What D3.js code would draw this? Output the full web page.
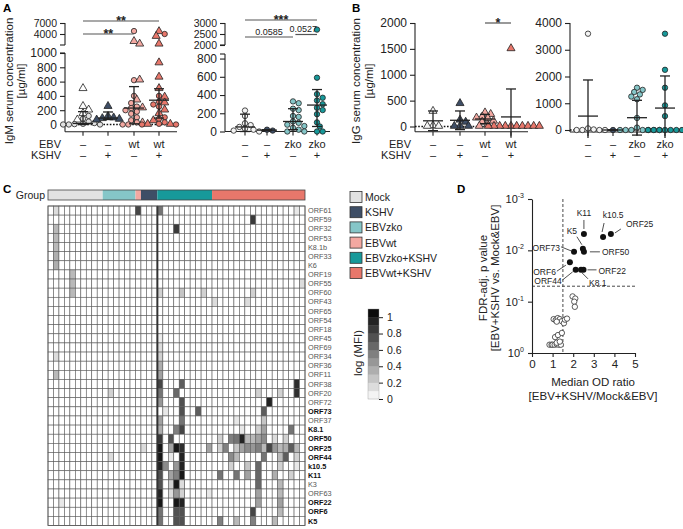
<!DOCTYPE html>
<html>
<head>
<meta charset="utf-8">
<script src="https://cdn.jsdelivr.net/npm/d3@7"></script>
<style>
body{margin:0;background:#fff;}
svg{font-family:"Liberation Sans",Arial,sans-serif;}
</style>
</head>
<body>
<script>
//wrap everything in a self-executing anonymous function
(function(){

    //group names and colours
    var groupNames = ["Mock", "KSHV", "EBVzko", "EBVwt", "EBVzko+KSHV", "EBVwt+KSHV"];
    var groupColors = ["#e2e2e2", "#3e4e66", "#85c6c8", "#f3a8a1", "#17999a", "#e8776b"];

    //panel A left: IgM [µg/ml], EBVwt experiment (triangles / circles = two cohorts)
    var igmWtMockTri = [500, 250, 200, 150, 60];
    var igmWtMockCirc = [120, 80, 40, 20, 10, 5, 0, 0, 0];
    var igmWtKshvTri = [250, 110, 90, 80, 70, 60];
    var igmWtEbvCirc = [4800, 620, 400, 300, 250, 230, 200, 180, 150, 100, 60, 30, 0, 0];
    var igmWtEbvTri = [1900, 1200, 620, 340, 230, 20];
    var igmWtBothTri = [4600, 3300, 1200, 860, 660, 500, 380, 300, 200, 150, 50, 0, 0];
    var igmWtBothCirc = [4000, 400, 320, 280, 250, 100, 80, 30, 10, 0, 0];
    var igmWtMedian = [15, 90, 230, 340];
    var igmWtQ1 = [0, 70, 10, 90];
    var igmWtQ3 = [180, 175, 530, 500];

    //panel A right: IgM [µg/ml], EBVzko experiment
    var igmZkoMock = [230, 170, 90, 70, 50, 30, 20, 10, 0];
    var igmZkoKshv = [20, 10];
    var igmZkoEbv = [330, 310, 250, 235, 170, 160, 110, 95, 75, 60, 40, 20, 0, 0];
    var igmZkoBoth = [2700, 590, 410, 370, 340, 300, 260, 235, 190, 100, 55, 0, 0];
    var igmZkoMedian = [50, 15, 110, 290];
    var igmZkoQ1 = [0, 10, 20, 55];
    var igmZkoQ3 = [190, 20, 250, 460];

    //panel B left: IgG [µg/ml], EBVwt experiment (mean ± SD)
    var iggWtMock = [290, 10, 0, 0];
    var iggWtKshv = [440, 120, 80, 0, 0, 0];
    var iggWtEbv = [260, 230, 180, 160, 150, 100, 80, 30, 0];
    var iggWtBoth = [1500, 0, 0, 0, 0, 0, 0, 0, 0, 0, 0];
    var iggWtMean = [110, 120, 145, 185];
    var iggWtSd = [190, 180, 90, 540];

    //panel B right: IgG [µg/ml], EBVzko experiment (mean ± SD)
    var iggZkoMock = [3600, 60, 20, 0, 0, 0, 0];
    var iggZkoKshv = [0];
    var iggZkoEbv = [1580, 1500, 1420, 1330, 1250, 1150, 450, 90, 0, 0, 0, 0, 0, 0, 0];
    var iggZkoBoth = [3600, 2250, 1580, 920, 520, 0, 0, 0, 0, 0, 0, 0];
    var iggZkoMean = [520, 0, 460, 820];
    var iggZkoSd = [1350, 0, 650, 1200];

    //panel C: heatmap of log(MFI)
    var heatRows = ["ORF61", "ORF59", "ORF32", "ORF53", "K8.1b", "ORF33", "K6", "ORF19", "ORF55", "ORF60",
        "ORF43", "ORF65", "ORF54", "ORF18", "ORF45", "ORF69", "ORF34", "ORF36", "ORF11", "ORF38",
        "ORF20", "ORF72", "ORF73", "ORF37", "K8.1", "ORF50", "ORF25", "ORF44", "k10.5", "K11",
        "K3", "ORF63", "ORF22", "ORF6", "K5"];
    var boldRows = ["ORF73", "K8.1", "ORF50", "ORF25", "ORF44", "k10.5", "K11", "ORF22", "ORF6", "K5"];
    var heatGroupOrder = ["Mock", "EBVzko", "EBVwt", "KSHV", "EBVzko+KSHV", "EBVwt+KSHV"];
    var heatGroupSizes = [10, 6, 1, 3, 10, 17];
    //non-zero cells: [row, sample column, log(MFI)]
    var heatCells = [
        ["ORF61",1,0.15],["ORF61",16,0.8],["ORF61",20,0.6],["ORF61",45,0.1],
        ["ORF59",37,0.85],
        ["ORF32",1,0.3],["ORF32",23,0.85],
        ["ORF53",1,0.3],["K8.1b",1,0.3],["ORF33",1,0.35],["K6",1,0.35],
        ["ORF19",4,0.3],["ORF55",4,0.3],["ORF55",46,0.15],
        ["ORF60",4,0.3],["ORF60",20,0.2],["ORF60",24,0.25],["ORF60",28,0.2],["ORF60",37,0.2],
        ["ORF43",30,0.15],["ORF43",36,0.15],
        ["ORF45",20,0.08],["ORF69",20,0.15],["ORF34",1,0.15],["ORF34",20,0.2],
        ["ORF36",20,0.35],["ORF11",1,0.3],["ORF11",20,0.4],
        ["ORF38",20,0.8],["ORF38",24,0.7],["ORF38",45,0.9],
        ["ORF20",11,0.2],["ORF20",20,0.6],["ORF20",23,0.65],["ORF20",38,0.2],["ORF20",42,0.2],["ORF20",45,0.9],
        ["ORF72",20,0.45],["ORF72",24,0.75],["ORF72",40,0.95],
        ["ORF73",21,0.1],["ORF73",24,0.75],["ORF73",27,0.7],["ORF73",39,0.7],
        ["ORF37",20,0.4],["ORF37",24,0.6],["ORF37",34,0.1],["ORF37",39,0.25],
        ["K8.1",20,0.35],["K8.1",23,0.55],["K8.1",24,0.8],["K8.1",35,0.1],["K8.1",38,0.2],["K8.1",39,0.4],["K8.1",44,0.6],
        ["ORF50",20,0.85],["ORF50",22,0.75],["ORF50",31,0.2],["ORF50",33,0.55],["ORF50",34,0.6],["ORF50",35,0.95],
        ["ORF50",36,0.3],["ORF50",37,0.3],["ORF50",38,0.4],["ORF50",39,0.5],["ORF50",41,0.15],["ORF50",43,0.2],
        ["ORF25",17,0.15],["ORF25",20,1.0],["ORF25",22,0.4],["ORF25",23,1.0],["ORF25",24,0.9],["ORF25",29,0.4],
        ["ORF25",31,0.2],["ORF25",32,0.55],["ORF25",34,0.25],["ORF25",35,0.4],["ORF25",36,0.5],["ORF25",37,0.45],
        ["ORF25",38,0.55],["ORF25",39,0.3],["ORF25",40,0.8],["ORF25",41,0.45],["ORF25",42,0.3],["ORF25",43,0.35],
        ["ORF25",44,0.7],["ORF25",45,0.3],
        ["ORF44",11,0.15],["ORF44",20,1.0],["ORF44",22,0.1],["ORF44",24,0.95],["ORF44",33,0.5],["ORF44",34,0.3],
        ["ORF44",39,0.6],["ORF44",42,0.3],["ORF44",43,0.7],["ORF44",45,0.2],
        ["k10.5",20,0.95],["k10.5",21,0.5],["k10.5",23,0.45],["k10.5",24,0.95],["k10.5",33,0.2],["k10.5",36,0.25],
        ["k10.5",38,0.65],["k10.5",42,0.2],["k10.5",45,0.1],
        ["K11",20,0.75],["K11",22,0.4],["K11",23,0.55],["K11",24,1.0],["K11",31,0.6],["K11",34,0.6],
        ["K11",36,0.4],["K11",38,0.65],["K11",41,0.35],["K11",44,0.2],
        ["K3",20,0.75],["K3",22,0.2],["K3",23,1.0],["K3",24,0.15],["K3",38,0.65],["K3",42,0.3],
        ["ORF63",20,0.95],["ORF63",22,0.15],["ORF63",23,0.45],["ORF63",24,0.2],["ORF63",29,0.1],["ORF63",38,0.4],["ORF63",42,0.3],
        ["ORF22",2,0.1],["ORF22",20,1.0],["ORF22",23,1.0],["ORF22",24,0.95],["ORF22",38,0.4],["ORF22",42,0.4],
        ["ORF6",20,0.6],["ORF6",23,0.75],["ORF6",24,0.75],["ORF6",37,0.8],["ORF6",42,0.3],
        ["K5",20,0.6],["K5",23,0.75],["K5",24,0.75],["K5",31,0.55],["K5",34,0.3],["K5",37,0.55],["K5",41,0.3]
    ];
    var colorbarTicks = [0, 0.2, 0.4, 0.6, 0.8, 1];

    //panel D: volcano-like plot
    var sigLabels = ["K11", "k10.5", "ORF25", "K5", "ORF50", "ORF73", "ORF6", "ORF44", "K8.1", "ORF22"];
    var sigRatio = [2.52, 3.45, 3.83, 2.47, 2.52, 2.04, 1.84, 2.12, 2.38, 2.5];
    var sigP = [0.0048, 0.0055, 0.0048, 0.0093, 0.0107, 0.0107, 0.017, 0.024, 0.024, 0.024];
    var nsRatio = [1.97, 2.1, 2.05, 2.08, 1.05, 1.15, 1.25, 1.35, 1.45, 1.55, 1.6, 1.7, 1.2,
        1.12, 1.26, 1.45, 0.85, 0.95, 1.0, 1.1, 1.2, 1.3, 1.4, 1.2, 1.35];
    var nsP = [0.079, 0.087, 0.1, 0.126, 0.219, 0.229, 0.209, 0.219, 0.24, 0.263, 0.224, 0.214, 0.245,
        0.49, 0.447, 0.407, 0.69, 0.69, 0.69, 0.69, 0.676, 0.69, 0.69, 0.63, 0.6];
    var dTicksX = [0, 1, 2, 3, 4, 5];
    var dTicksP = [1, 0.1, 0.01, 0.001];

    var svg = d3.select("body").append("svg")
        .attr("width", 683)
        .attr("height", 529);

    //panel letters
    [["A", 3, 12], ["B", 352, 12], ["C", 3, 193], ["D", 457, 193]].forEach(function(l){
        svg.append("text").attr("x", l[1]).attr("y", l[2])
            .attr("font-size", 11.5).attr("font-weight", "bold").text(l[0]);
    });

    //----- panel A / B dot plots -----
    drawDotPanel({
        axisX: 65, xEnd: 177, baseY: 131.7,
        lowDomain: [0, 1000], lowRange: [124.5, 53], lowTicks: [0, 200, 400, 600, 800, 1000],
        upDomain: [1000, 7000], upRange: [45, 23], upTicks: [4000, 7000],
        xs: [83, 108, 134, 159], dotted: true,
        row1: ["–", "–", "wt", "wt"], row2: ["–", "+", "–", "+"], rowNames: true,
        center: igmWtMedian, lo: igmWtQ1, hi: igmWtQ3,
        series: [
            {group: 0, vals: igmWtMockTri, shape: "tri", fill: "#ffffff"},
            {group: 0, vals: igmWtMockCirc, shape: "circ", fill: groupColors[0]},
            {group: 1, vals: igmWtKshvTri, shape: "tri", fill: groupColors[1]},
            {group: 2, vals: igmWtEbvCirc, shape: "circ", fill: groupColors[3]},
            {group: 2, vals: igmWtEbvTri, shape: "tri", fill: groupColors[3]},
            {group: 3, vals: igmWtBothTri, shape: "tri", fill: groupColors[5]},
            {group: 3, vals: igmWtBothCirc, shape: "circ", fill: groupColors[5]}
        ],
        brackets: [
            {g1: 0, g2: 3, y: 21, label: "**", star: true},
            {g1: 0, g2: 2, y: 34, label: "**", star: true}
        ]
    });

    drawDotPanel({
        axisX: 225, xEnd: 330, baseY: 131.5,
        lowDomain: [0, 850], lowRange: [131.5, 54], lowTicks: [0, 200, 400, 600, 800],
        upDomain: [2000, 3000], upRange: [45, 23], upTicks: [2000, 2500, 3000],
        xs: [245, 267, 293, 317], dotted: false,
        row1: ["–", "–", "zko", "zko"], row2: ["–", "+", "–", "+"], rowNames: false,
        center: igmZkoMedian, lo: igmZkoQ1, hi: igmZkoQ3,
        series: [
            {group: 0, vals: igmZkoMock, shape: "circ", fill: "#f4f4f4"},
            {group: 1, vals: igmZkoKshv, shape: "circ", fill: groupColors[1]},
            {group: 2, vals: igmZkoEbv, shape: "circ", fill: groupColors[2]},
            {group: 3, vals: igmZkoBoth, shape: "circ", fill: groupColors[4]}
        ],
        brackets: [
            {g1: 0, g2: 3, y: 20, label: "***", star: true},
            {g1: 0, g2: 2, y: 37, label: "0.0585"},
            {g1: 2.1, g2: 3, y: 34.5, label: "0.0527", dx: -3}
        ]
    });

    drawDotPanel({
        axisX: 415, xEnd: 528, baseY: 131.7,
        lowDomain: [0, 2000], lowRange: [126.5, 23], lowTicks: [0, 500, 1000, 1500, 2000],
        xs: [433, 460, 485, 511], dotted: true,
        row1: ["–", "–", "wt", "wt"], row2: ["–", "+", "–", "+"], rowNames: true,
        center: iggWtMean,
        lo: iggWtMean.map(function(m, i){ return m - iggWtSd[i]; }),
        hi: iggWtMean.map(function(m, i){ return m + iggWtSd[i]; }),
        series: [
            {group: 0, vals: iggWtMock, shape: "tri", fill: "#f4f4f4"},
            {group: 1, vals: iggWtKshv, shape: "tri", fill: groupColors[1]},
            {group: 2, vals: iggWtEbv, shape: "tri", fill: groupColors[3]},
            {group: 3, vals: iggWtBoth, shape: "tri", fill: groupColors[5]}
        ],
        brackets: [{g1: 2, g2: 3, y: 23, label: "*", star: true}]
    });

    drawDotPanel({
        axisX: 570, xEnd: 683, baseY: 132,
        lowDomain: [0, 4000], lowRange: [130, 23], lowTicks: [0, 1000, 2000, 3000, 4000],
        xs: [588, 613, 637, 665], dotted: true,
        row1: ["–", "–", "zko", "zko"], row2: ["–", "+", "–", "+"], rowNames: false,
        center: iggZkoMean,
        lo: iggZkoMean.map(function(m, i){ return m - iggZkoSd[i]; }),
        hi: iggZkoMean.map(function(m, i){ return m + iggZkoSd[i]; }),
        series: [
            {group: 0, vals: iggZkoMock, shape: "circ", fill: "#f4f4f4"},
            {group: 1, vals: iggZkoKshv, shape: "circ", fill: groupColors[1]},
            {group: 2, vals: iggZkoEbv, shape: "circ", fill: groupColors[2]},
            {group: 3, vals: iggZkoBoth, shape: "circ", fill: groupColors[4]}
        ],
        brackets: []
    });

    //y axis titles
    yTitle(13, 81, "IgM serum concentration");
    yTitle(25, 81, "[µg/ml]");
    yTitle(360, 81, "IgG serum concentration");
    yTitle(373, 81, "[µg/ml]");

    function yTitle(x, y, txt){
        svg.append("text")
            .attr("transform", "translate(" + x + "," + y + ") rotate(-90)")
            .attr("text-anchor", "middle")
            .attr("font-size", 11.5)
            .attr("fill", "#222")
            .text(txt);
    };

    setHeatmap();
    setPanelD();

    //dot plot with optional broken y axis
    function drawDotPanel(cfg){
        var g = svg.append("g");
        var yLow = d3.scaleLinear().domain(cfg.lowDomain).range(cfg.lowRange);
        var yUp = cfg.upDomain ? d3.scaleLinear().domain(cfg.upDomain).range(cfg.upRange) : null;
        function y(v){
            return (yUp && v > cfg.lowDomain[1]) ? yUp(v) : yLow(v);
        };

        //lower y axis segment
        var axLow = g.append("g")
            .attr("transform", "translate(" + cfg.axisX + ",0)")
            .call(d3.axisLeft(yLow).tickValues(cfg.lowTicks).tickSize(5).tickPadding(3).tickFormat(d3.format("d")));
        axLow.select(".domain").remove();
        axLow.selectAll("text").attr("font-size", 12);
        g.append("line")
            .attr("x1", cfg.axisX).attr("x2", cfg.axisX)
            .attr("y1", cfg.baseY).attr("y2", cfg.lowRange[1]);

        if (yUp){
            var axUp = g.append("g")
                .attr("transform", "translate(" + cfg.axisX + ",0)")
                .call(d3.axisLeft(yUp).tickValues(cfg.upTicks).tickSize(5).tickPadding(3).tickFormat(d3.format("d")));
            axUp.select(".domain").remove();
            axUp.selectAll("text").attr("font-size", 10.5).attr("dy", "0.35em");
            g.append("line")
                .attr("x1", cfg.axisX).attr("x2", cfg.axisX)
                .attr("y1", cfg.upRange[0]).attr("y2", cfg.upRange[1]);
            //break marks
            [cfg.upRange[0], cfg.lowRange[1]].forEach(function(by){
                g.append("line")
                    .attr("x1", cfg.axisX - 5).attr("x2", cfg.axisX)
                    .attr("y1", by).attr("y2", by);
            });
        };

        g.selectAll(".tick text").attr("fill", "#222").attr("font-family", null);
        g.selectAll(".tick line").attr("stroke", "#222");

        //x axis
        g.append("line")
            .attr("x1", cfg.axisX).attr("x2", cfg.xEnd)
            .attr("y1", cfg.baseY).attr("y2", cfg.baseY);
        cfg.xs.forEach(function(x){
            g.append("line").attr("x1", x).attr("x2", x)
                .attr("y1", cfg.baseY).attr("y2", cfg.baseY + 4);
        });
        g.selectAll("line").attr("stroke", "#222").attr("stroke-width", 1.1);

        //dotted zero line
        if (cfg.dotted){
            g.append("line")
                .attr("x1", cfg.axisX).attr("x2", cfg.xEnd)
                .attr("y1", y(0)).attr("y2", y(0))
                .attr("stroke", "#111").attr("stroke-width", 1.4)
                .attr("stroke-dasharray", "1.6,1.6");
        };

        //category labels
        cfg.xs.forEach(function(x, i){
            g.append("text").attr("x", x).attr("y", 148).attr("text-anchor", "middle")
                .attr("font-size", 11).attr("fill", "#222").text(cfg.row1[i]);
            g.append("text").attr("x", x).attr("y", 159).attr("text-anchor", "middle")
                .attr("font-size", 11).attr("fill", "#222").text(cfg.row2[i]);
        });
        if (cfg.rowNames){
            g.append("text").attr("x", cfg.axisX - 4).attr("y", 148).attr("text-anchor", "end")
                .attr("font-size", 11).attr("fill", "#222").text("EBV");
            g.append("text").attr("x", cfg.axisX - 4).attr("y", 159).attr("text-anchor", "end")
                .attr("font-size", 11).attr("fill", "#222").text("KSHV");
        };

        //points, spread like a beeswarm
        var r = 2.7;
        cfg.xs.forEach(function(cx, gi){
            var pts = [];
            cfg.series.filter(function(s){ return s.group == gi; }).forEach(function(s){
                s.vals.forEach(function(v){
                    pts.push({py: y(v), shape: s.shape, fill: s.fill, v: v});
                });
            });
            swarm(pts, cx, r);
            pts.forEach(function(p){
                if (p.shape == "tri"){
                    g.append("path")
                        .attr("d", d3.symbol().type(d3.symbolTriangle).size(28)())
                        .attr("transform", "translate(" + p.px + "," + (p.py - 0.5) + ")")
                        .attr("fill", p.fill).attr("stroke", "#222").attr("stroke-width", 0.8);
                } else {
                    g.append("circle")
                        .attr("cx", p.px).attr("cy", p.py).attr("r", r)
                        .attr("fill", p.fill).attr("stroke", "#222").attr("stroke-width", 0.8);
                };
            });
        });

        //summary lines (centre and spread), spread clipped just below the axis
        var yMin = cfg.baseY + 6;
        cfg.xs.forEach(function(cx, i){
            var yc = y(cfg.center[i]), yl = Math.min(y(cfg.lo[i]), yMin), yh = y(cfg.hi[i]);
            var s = g.append("g").attr("stroke", "#222").attr("stroke-width", 1.3);
            s.append("line").attr("x1", cx - 10).attr("x2", cx + 10).attr("y1", yc).attr("y2", yc);
            s.append("line").attr("x1", cx).attr("x2", cx).attr("y1", yl).attr("y2", yh);
            if (yl < yMin){
                s.append("line").attr("x1", cx - 5).attr("x2", cx + 5).attr("y1", yl).attr("y2", yl);
            };
            s.append("line").attr("x1", cx - 5).attr("x2", cx + 5).attr("y1", yh).attr("y2", yh);
        });

        //significance brackets
        var gx = d3.scaleLinear().domain([0, 3]).range([cfg.xs[0], cfg.xs[3]]);
        cfg.brackets.forEach(function(b){
            var x1 = gx(b.g1), x2 = gx(b.g2);
            g.append("line").attr("x1", x1).attr("x2", x2).attr("y1", b.y).attr("y2", b.y)
                .attr("stroke", "#555").attr("stroke-width", 1.2);
            g.append("text")
                .attr("x", (x1 + x2) / 2 + (b.dx || 0))
                .attr("y", b.star ? b.y + 3.5 : b.y - 2.5)
                .attr("text-anchor", "middle")
                .attr("font-size", b.star ? 12.5 : 9)
                .attr("font-weight", b.star ? "bold" : null)
                .attr("fill", "#222")
                .text(b.label);
        });
    };

    //simple deterministic beeswarm
    function swarm(pts, cx, r){
        var placed = [];
        pts.sort(function(a, b){ return a.py - b.py; });
        pts.forEach(function(p){
            for (var k=0; k<60; k++){
                var off = (k == 0) ? 0 : Math.ceil(k / 2) * (k % 2 ? 1 : -1) * r * 1.05;
                var px = cx + off;
                var hit = placed.some(function(q){
                    var dx = q.px - px, dy = q.py - p.py;
                    return dx * dx + dy * dy < (2 * r) * (2 * r) * 0.8;
                });
                if (!hit){
                    p.px = px;
                    placed.push(p);
                    break;
                };
            };
        });
    };

    //panel C heatmap
    function setHeatmap(){
        var nCols = d3.sum(heatGroupSizes);
        var x = d3.scaleLinear().domain([0, nCols]).range([48, 305]);
        var y = d3.scaleBand().domain(heatRows).range([206, 525.5]);
        var color = d3.scaleLinear().domain([0, 1.1]).range(["#ffffff", "#000000"]).clamp(true);

        //group bar
        var start = 0;
        heatGroupOrder.forEach(function(gn, i){
            svg.append("rect")
                .attr("x", x(start)).attr("y", 190)
                .attr("width", x(start + heatGroupSizes[i]) - x(start)).attr("height", 10)
                .attr("fill", groupColors[groupNames.indexOf(gn)]);
            start += heatGroupSizes[i];
        });
        svg.append("rect").attr("x", x(0)).attr("y", 190)
            .attr("width", x(nCols) - x(0)).attr("height", 10)
            .attr("fill", "none").attr("stroke", "#444").attr("stroke-width", 0.8);
        svg.append("text").attr("x", 45).attr("y", 199).attr("text-anchor", "end")
            .attr("font-size", 10.5).attr("fill", "#222").text("Group");

        //cell lookup
        var lookup = {};
        heatCells.forEach(function(c){ lookup[c[0] + "|" + c[1]] = c[2]; });

        var cells = [];
        heatRows.forEach(function(rn){
            d3.range(nCols).forEach(function(j){
                cells.push({row: rn, col: j, val: lookup[rn + "|" + j] || 0});
            });
        });

        svg.append("g").selectAll("rect")
            .data(cells)
            .enter()
            .append("rect")
            .attr("x", function(d){ return x(d.col); })
            .attr("y", function(d){ return y(d.row); })
            .attr("width", x(1) - x(0))
            .attr("height", y.bandwidth())
            .attr("fill", function(d){ return color(d.val); })
            .attr("stroke", "#5c5c5c")
            .attr("stroke-width", 0.6);

        //separator between groups without and with KSHV-infected EBV
        svg.append("line")
            .attr("x1", x(20)).attr("x2", x(20))
            .attr("y1", 206).attr("y2", 525.5)
            .attr("stroke", "#333").attr("stroke-width", 2);
        svg.append("rect").attr("x", x(0)).attr("y", 206)
            .attr("width", x(nCols) - x(0)).attr("height", 319.5)
            .attr("fill", "none").attr("stroke", "#555").attr("stroke-width", 0.8);

        //row labels
        svg.append("g").selectAll("text")
            .data(heatRows)
            .enter()
            .append("text")
            .attr("x", 308)
            .attr("y", function(d){ return y(d) + y.bandwidth() / 2 + 2.6; })
            .attr("font-size", 7.3)
            .attr("font-weight", function(d){ return boldRows.indexOf(d) >= 0 ? "bold" : null; })
            .attr("fill", function(d){ return boldRows.indexOf(d) >= 0 ? "#111" : "#555"; })
            .text(function(d){ return d; });

        //group legend
        groupNames.forEach(function(gn, i){
            var ly = 197 + i * 15.2;
            svg.append("rect").attr("x", 350).attr("y", ly - 5.5)
                .attr("width", 12).attr("height", 11)
                .attr("fill", groupColors[i]).attr("stroke", "#333").attr("stroke-width", 0.8);
            svg.append("text").attr("x", 365).attr("y", ly + 4)
                .attr("font-size", 10.5).attr("fill", "#222").text(gn);
        });

        //colour bar
        var cy = d3.scaleLinear().domain([0, 1.1]).range([399, 309]);
        d3.range(0, 1.1, 0.1).forEach(function(v){
            svg.append("rect").attr("x", 368).attr("y", cy(v + 0.1))
                .attr("width", 11).attr("height", cy(v) - cy(v + 0.1) + 0.3)
                .attr("fill", color(v + 0.05));
        });
        svg.append("rect").attr("x", 368).attr("y", 309).attr("width", 11).attr("height", 90)
            .attr("fill", "none").attr("stroke", "#999").attr("stroke-width", 0.4);
        var cax = svg.append("g").attr("transform", "translate(379,0)")
            .call(d3.axisRight(cy).tickValues(colorbarTicks).tickSize(4).tickPadding(4)
                .tickFormat(function(d){ return d3.format("~g")(d); }));
        cax.select(".domain").remove();
        cax.selectAll("text").attr("font-size", 10.5).attr("fill", "#222").attr("font-family", null);
        cax.selectAll("line").attr("stroke", "#222");
        yTitle(362, 353, "log (MFI)");
    };

    //panel D
    function setPanelD(){
        var x = d3.scaleLinear().domain([0, 5]).range([532, 635]);
        var y = d3.scaleLog().domain([1, 0.001]).range([353, 199]);
        var g = svg.append("g");

        //dashed thresholds
        g.append("line").attr("x1", x(1.5)).attr("x2", x(1.5)).attr("y1", 199).attr("y2", 353)
            .attr("stroke", "#333").attr("stroke-width", 0.9).attr("stroke-dasharray", "3,2");
        g.append("line").attr("x1", x(0)).attr("x2", x(5)).attr("y1", y(0.05)).attr("y2", y(0.05))
            .attr("stroke", "#333").attr("stroke-width", 0.9).attr("stroke-dasharray", "3,2");

        //axes
        var ax = g.append("g").attr("transform", "translate(0,353)")
            .call(d3.axisBottom(x).tickValues(dTicksX).tickSize(4).tickSizeOuter(0).tickPadding(3)
                .tickFormat(d3.format("d")));
        ax.selectAll("text").attr("font-size", 11.5).attr("fill", "#222").attr("font-family", null);
        var ay = g.append("g").attr("transform", "translate(532,0)")
            .call(d3.axisLeft(y).tickValues(dTicksP).tickSize(4).tickSizeOuter(0).tickFormat(""));
        g.selectAll(".domain, .tick line").attr("stroke", "#222").attr("stroke-width", 1.1);
        dTicksP.forEach(function(p){
            var t = g.append("text").attr("x", 524).attr("y", y(p) + 4)
                .attr("text-anchor", "end").attr("font-size", 11).attr("fill", "#222");
            t.append("tspan").text("10");
            t.append("tspan").attr("dy", -5).attr("font-size", 7).text(String(Math.round(Math.log10(p))));
        });

        //non-significant antigens
        g.selectAll(".ns")
            .data(nsRatio)
            .enter()
            .append("circle")
            .attr("cx", function(d){ return x(d); })
            .attr("cy", function(d, i){ return y(nsP[i]); })
            .attr("r", 2.7)
            .attr("fill", "#fff")
            .attr("stroke", "#333")
            .attr("stroke-width", 0.8);

        //significant antigens
        g.selectAll(".sig")
            .data(sigRatio)
            .enter()
            .append("circle")
            .attr("cx", function(d){ return x(d); })
            .attr("cy", function(d, i){ return y(sigP[i]); })
            .attr("r", 3)
            .attr("fill", "#111");

        //labels with leader lines: [dx, dy, anchor, line x1, y1, x2, y2]
        var labelPos = {
            "K11": [0, -18, "middle", 0, -14, 0, -5],
            "k10.5": [10, -19, "middle", 1, -14, -1, -5],
            "ORF25": [15, -7, "start", 10, -5, 4, -1],
            "K5": [-11, -15, "middle", -6, -12, -1, -4],
            "ORF50": [18, 3, "start", 6, 0, 16, 0],
            "ORF73": [-14, -1, "end", -13, -5, -3, -1],
            "ORF6": [-14, 13, "end", -13, 9, -4, 3],
            "ORF44": [-14, 14, "end", -13, 10, -3, 2],
            "K8.1": [8, 16, "start", 1, 3, 7, 9],
            "ORF22": [15, 4, "start", 4, 0, 13, 0]
        };
        sigLabels.forEach(function(lab, i){
            var px = x(sigRatio[i]), py = y(sigP[i]), lp = labelPos[lab];
            g.append("line")
                .attr("x1", px + lp[3]).attr("y1", py + lp[4])
                .attr("x2", px + lp[5]).attr("y2", py + lp[6])
                .attr("stroke", "#222").attr("stroke-width", 0.8);
            g.append("text").attr("x", px + lp[0]).attr("y", py + lp[1])
                .attr("text-anchor", lp[2]).attr("font-size", 8.5).attr("fill", "#222").text(lab);
        });

        //titles
        yTitle(487, 278, "FDR-adj. p value");
        yTitle(499, 278, "[EBV+KSHV vs. Mock&EBV]");
        g.append("text").attr("x", 593).attr("y", 386).attr("text-anchor", "middle")
            .attr("font-size", 11.5).attr("fill", "#222").text("Median OD ratio");
        g.append("text").attr("x", 593).attr("y", 400).attr("text-anchor", "middle")
            .attr("font-size", 11.5).attr("fill", "#222").text("[EBV+KSHV/Mock&EBV]");
    };

})();
</script>
</body>
</html>
